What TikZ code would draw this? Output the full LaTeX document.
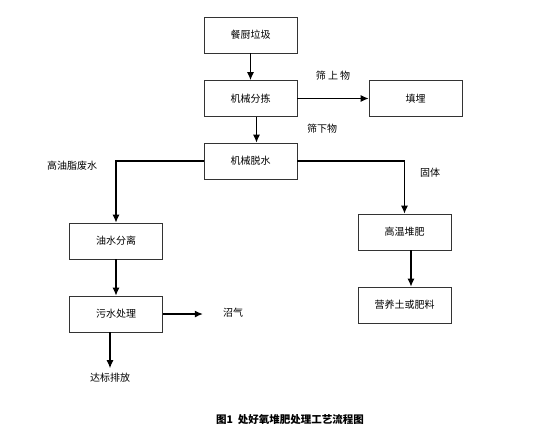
\documentclass[tikz,border=0pt]{standalone}
\usepackage{fontspec}
\newfontfamily\cjk{Noto Sans CJK SC}
\usepackage{tikz}
\usetikzlibrary{arrows.meta}

\begin{document}
\begin{tikzpicture}[x=1pt,y=-1pt,
  stepbox/.style={draw=black!80, line width=0.8pt, minimum width=93pt, minimum height=36pt, inner sep=0pt, font=\cjk\fontsize{10}{12}\selectfont},
  lbl/.style={inner sep=0pt, font=\cjk\fontsize{10}{12}\selectfont},
  arr/.style={black, line width=1.1pt, -{Latex[length=8pt,width=7pt]}},
  ln/.style={black, line width=0.8pt}]

\useasboundingbox (0,0) rectangle (554,434);

% process boxes
\node[stepbox] (waste) at (250.5,35) {餐厨垃圾};
\node[stepbox] (sort) at (250.5,98.5) {机械分拣};
\node[stepbox] (landfill) at (415.5,98.5) {填埋};
\node[stepbox] (dewater) at (250.5,161) {机械脱水};
\node[stepbox] (separate) at (116,241) {油水分离};
\node[stepbox] (treat) at (116,314) {污水处理};
\node[stepbox] (compost) at (404.5,232) {高温堆肥};
\node[stepbox] (fertilizer) at (404.5,305) {营养土或肥料};

% labels
\node[lbl] (over) at (333,76) {筛\ 上\ 物};
\node[lbl] (under) at (322,129) {筛下物};
\node[lbl] (solid) at (430,173) {固体};
\node[lbl] (oily) at (72,166) {高油脂废水};
\node[lbl] (biogas) at (233,313) {沼气};
\node[lbl] (discharge) at (110,378) {达标排放};

% connectors
\draw[arr] (waste) -- (sort);
\draw[arr] (sort) -- (landfill);
\draw[arr] ([xshift=6pt]sort.south) -- ([xshift=6pt]sort.south |- dewater.north);
\draw[arr] (dewater.west) -| (separate.north);
\draw[arr] (dewater.east) -| (compost.north);
\draw[arr] (separate) -- (treat);
\draw[arr] ([xshift=6.5pt]compost.south) -- ([xshift=6.5pt]compost.south |- fertilizer.north);
\draw[arr] (treat.east) -- ([xshift=-20pt]biogas.west |- treat.east);
\draw[arr] (treat.south -| discharge) -- ([yshift=5pt]discharge.north);

% caption
\node[inner sep=0pt, font=\cjk\bfseries\fontsize{10.5}{12}\selectfont] (caption) at (290,420) {图1\ \ 处好氧堆肥处理工艺流程图};

\end{tikzpicture}
\end{document}
